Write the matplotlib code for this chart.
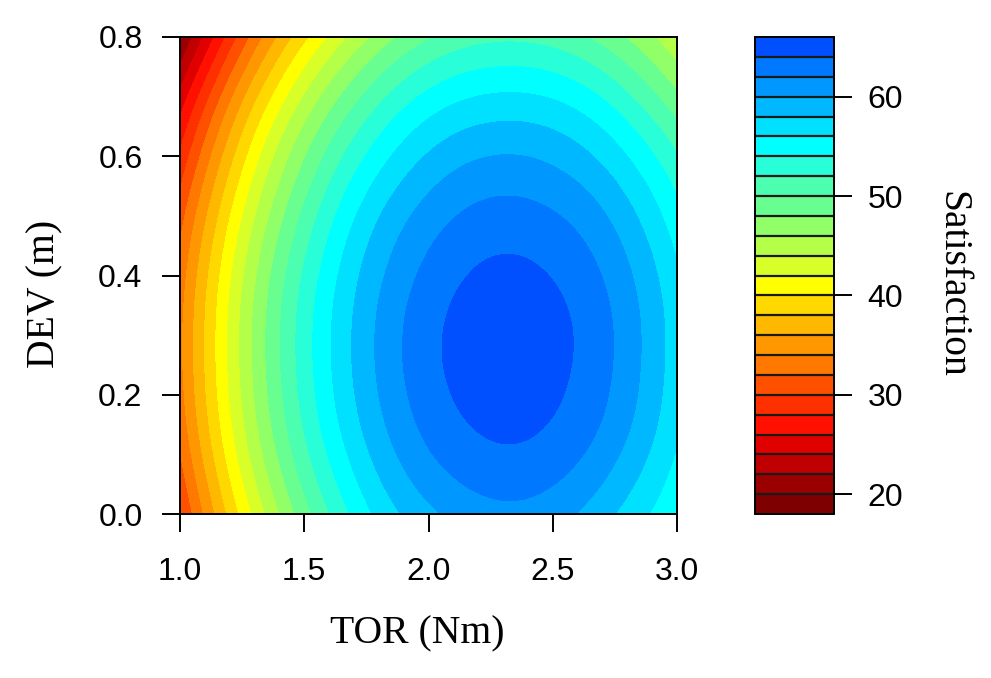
import matplotlib
matplotlib.use('Agg')
import matplotlib.pyplot as plt
import matplotlib.tri as mtri
import numpy as np

# grid of satisfaction values (rows = DEV, columns = TOR)
tor = [1.0, 1.25, 1.5, 1.75, 2.0, 2.25, 2.5, 2.75, 3.0]
dev = [0.0, 0.1, 0.2, 0.3, 0.4, 0.5, 0.6, 0.7, 0.8]
satisfaction = [
    [29.7, 40.5, 49.1, 55.5, 59.5, 61.3, 60.8, 58.0, 54.3],
    [31.9, 42.8, 51.4, 57.7, 61.8, 63.6, 63.1, 60.3, 55.8],
    [33.2, 44.1, 52.7, 59.0, 63.1, 64.8, 64.3, 61.6, 56.7],
    [33.5, 44.4, 53.0, 59.3, 63.4, 65.1, 64.6, 61.9, 56.9],
    [32.8, 43.7, 52.3, 58.6, 62.6, 64.4, 63.9, 61.2, 56.3],
    [31.1, 41.9, 50.5, 56.9, 60.9, 62.7, 62.2, 59.5, 54.7],
    [28.3, 39.2, 47.8, 54.1, 58.2, 60.0, 59.5, 56.8, 52.2],
    [24.6, 35.5, 44.1, 50.4, 54.5, 56.2, 55.8, 53.1, 48.4],
    [19.6, 30.8, 39.4, 45.7, 49.8, 51.5, 51.1, 48.6, 44.3],
]
levels = list(range(18, 68, 2))
cbar_ticks = [20, 30, 40, 50, 60]
x_ticks = [1.0, 1.5, 2.0, 2.5, 3.0]
y_ticks = [0.0, 0.2, 0.4, 0.6, 0.8]

# band colours, low to high
band_colors = [
    '#7f0000', '#9a0000', '#c00000', '#e00000', '#ff1000', '#ff3000',
    '#ff5000', '#ff7800', '#ff9800', '#ffb800', '#ffd800', '#ffff00',
    '#d8ff28', '#b4ff48', '#90ff68', '#68ff90', '#4cffb0', '#28ffd8',
    '#00ffff', '#00e0ff', '#00b8ff', '#0098ff', '#0078ff', '#0050ff',
]

sans = ['Liberation Sans', 'DejaVu Sans']
serif = ['Liberation Serif', 'DejaVu Serif']

fig = plt.figure(figsize=(9.91, 6.78), dpi=100)
ax = fig.add_axes([180 / 991, 1 - 514 / 678, 497 / 991, 477 / 678])

X, Y = np.meshgrid(tor, dev)
Z = np.asarray(satisfaction).ravel()
tri = mtri.Triangulation(X.ravel(), Y.ravel())
interp = mtri.CubicTriInterpolator(tri, Z, kind='min_E')
tri_f, z_f = mtri.UniformTriRefiner(tri).refine_field(Z, triinterpolator=interp, subdiv=4)
cs = ax.tricontourf(tri_f, z_f, levels=levels, colors=band_colors)

ax.set_xlim(1.0, 3.0)
ax.set_ylim(0.0, 0.8)
ax.set_xticks(x_ticks)
ax.set_yticks(y_ticks)
ax.set_xticklabels(['%.1f' % v for v in x_ticks], family=sans, fontsize=23)
ax.set_yticklabels(['%.1f' % v for v in y_ticks], family=sans, fontsize=23)
ax.tick_params(axis='x', length=13, width=1.4, pad=18)
ax.tick_params(axis='y', length=13, width=1.4, pad=14)
for s in ax.spines.values():
    s.set_linewidth(1.4)

fig.text(417 / 991, 1 - 643 / 678, 'TOR (Nm)', family=serif, fontsize=28.5,
         ha='center', va='baseline')
fig.text(45 / 991, 1 - 294 / 678, 'DEV (m)', family=serif, fontsize=28.5,
         ha='center', va='center', rotation=90)

cax = fig.add_axes([755 / 991, 1 - 514 / 678, 79 / 991, 477 / 678])
cb = fig.colorbar(cs, cax=cax, ticks=cbar_ticks, drawedges=True)
cb.dividers.set_linewidth(1.6)
cb.dividers.set_color('#1a1a1a')
cb.outline.set_linewidth(1.4)
cax.tick_params(length=13, width=1.4, pad=11)
cax.set_yticklabels([str(v) for v in cbar_ticks], family=sans, fontsize=23)
fig.text(952 / 991, 1 - 284 / 678, 'Satisfaction', family=serif, fontsize=28.5,
         ha='center', va='center', rotation=270)

fig.savefig('out.png', dpi=100)
